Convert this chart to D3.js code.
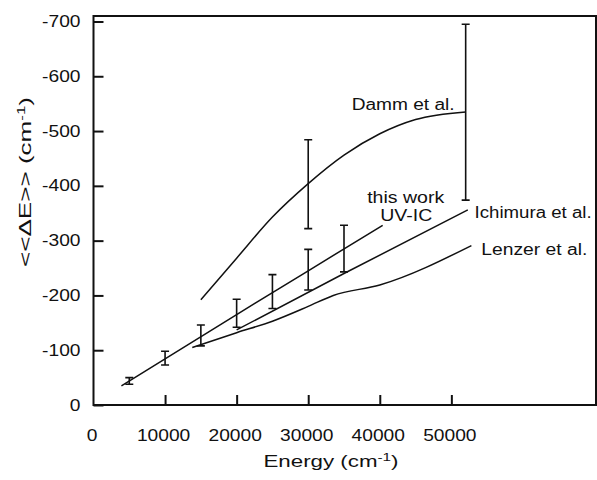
<!DOCTYPE html>
<html lang="en">
<head>
    <meta charset="UTF-8">
    <title>Energy transfer</title>
    <script src="https://d3js.org/d3.v7.min.js"></script>
    <style>
        body { margin: 0; background: #fff; }
        svg text { font-family: "Liberation Sans", Arial, Helvetica, sans-serif; fill: #111; }
        .domain { display: none; }
        .tick line { stroke: #111; stroke-width: 2; }
    </style>
</head>
<body>
    <svg width="597" height="480"></svg>

    <script>
        // this work (UV-IC) error bars
        const twX = [5000, 10000, 15000, 20000, 25000, 30000, 35000];
        const twLo = [-38, -73, -108, -142, -176, -210, -243];
        const twHi = [-50, -98, -146, -193, -238, -284, -328];
        // Damm et al. error bars
        const dammErrX = [30000, 52000];
        const dammErrLo = [-322, -374];
        const dammErrHi = [-484, -695];

        // curves
        const twLineX = [3900, 10000, 20000, 30000, 40400];
        const twLineY = [-35, -84, -165, -245, -328];
        const dammX = [15000, 20000, 25000, 30000, 35000, 40000, 45000, 52000];
        const dammY = [-192, -268, -343, -404, -456, -495, -521, -535];
        const ichiX = [20000, 35000, 52300];
        const ichiY = [-137, -240, -356];
        const lenzX = [13800, 20000, 25000, 30000, 33500, 40000, 52800];
        const lenzY = [-105, -132, -153, -180, -200, -219, -291];

        const xTicks = [0, 10000, 20000, 30000, 40000, 50000];
        const yTicks = [0, -100, -200, -300, -400, -500, -600, -700];

        const svg = d3.select("svg");
        const x = d3.scaleLinear().domain([0, 70000]).range([93.5, 594.5]);
        const y = d3.scaleLinear().domain([0, -710]).range([405, 16]);
        const sx = 1.2;

        // axes
        const gx = svg.append("g")
            .attr("transform", `translate(0,${y(0)})`)
            .call(d3.axisBottom(x).tickValues(xTicks).tickSizeInner(-10).tickSizeOuter(0).tickPadding(25)
                .tickFormat(d => String(d)));
        gx.selectAll("text").attr("font-size", 16).attr("transform", `scale(${sx},1)`).attr("x", -2 / sx);
        gx.selectAll(".tick").filter(d => d === 0).select("line").remove();

        const gy = svg.append("g")
            .attr("transform", `translate(${x(0)},0)`)
            .call(d3.axisLeft(y).tickValues(yTicks).tickSizeInner(-10).tickSizeOuter(0).tickPadding(12)
                .tickFormat(d => d === 0 ? "0" : "-" + Math.abs(d)));
        gy.selectAll("text").attr("font-size", 16).attr("transform", `scale(${sx},1)`).attr("x", -13 / sx);

        // frame
        svg.append("path")
            .attr("d", `M${x(0)},${y(-710)}V${y(0)}H596V${y(-710)}Z`)
            .attr("fill", "none").attr("stroke", "#111").attr("stroke-width", 2);

        // curves
        const line = d3.line().x(d => x(d[0])).y(d => y(d[1]));
        const curves = [
            [d3.zip(twLineX, twLineY), d3.curveLinear],
            [d3.zip(dammX, dammY), d3.curveMonotoneX],
            [d3.zip(ichiX, ichiY), d3.curveLinear],
            [d3.zip(lenzX, lenzY), d3.curveMonotoneX]
        ];
        curves.forEach(([pts, curve]) => {
            svg.append("path")
                .attr("d", line.curve(curve)(pts))
                .attr("fill", "none").attr("stroke", "#111").attr("stroke-width", 1.5);
        });

        // error bars
        const bars = d3.zip(twX, twLo, twHi).concat(d3.zip(dammErrX, dammErrLo, dammErrHi));
        const eb = svg.append("g").attr("stroke", "#111").attr("stroke-width", 1.6).attr("fill", "none");
        bars.forEach(([bx, lo, hi]) => {
            const cx = x(bx), w = 4;
            eb.append("path")
                .attr("d", `M${cx},${y(lo)}V${y(hi)}M${cx - w},${y(lo)}H${cx + w}M${cx - w},${y(hi)}H${cx + w}`);
        });

        // annotations
        const labels = [
            { text: "Damm et al.", ex: 50460, ey: -538, anchor: "end", len: 103 },
            { text: "this work", ex: 43620, ey: -369, anchor: "middle", len: 77 },
            { text: "UV-IC", ex: 43700, ey: -336, anchor: "middle", len: 52 },
            { text: "Ichimura et al.", ex: 53250, ey: -341, anchor: "start", len: 117 },
            { text: "Lenzer et al.", ex: 54190, ey: -274, anchor: "start", len: 106 }
        ];
        labels.forEach(l => {
            svg.append("text")
                .attr("x", x(l.ex)).attr("y", y(l.ey))
                .attr("text-anchor", l.anchor)
                .attr("font-size", 16)
                .attr("textLength", l.len).attr("lengthAdjust", "spacingAndGlyphs")
                .text(l.text);
        });

        // axis titles
        const xt = svg.append("text")
            .attr("x", 331).attr("y", 467)
            .attr("text-anchor", "middle").attr("font-size", 16)
            .attr("textLength", 135).attr("lengthAdjust", "spacingAndGlyphs");
        xt.append("tspan").text("Energy (cm");
        xt.append("tspan").attr("dy", -6).attr("font-size", 11).text("-1");
        xt.append("tspan").attr("dy", 6).text(")");

        const yt = svg.append("text")
            .attr("transform", "translate(31,182) rotate(-90)")
            .attr("text-anchor", "middle").attr("font-size", 17)
            .attr("textLength", 170).attr("lengthAdjust", "spacingAndGlyphs");
        yt.append("tspan").text("<<ΔE>> (cm");
        yt.append("tspan").attr("dy", -6).attr("font-size", 11).text("-1");
        yt.append("tspan").attr("dy", 6).text(")");
    </script>
</body>
</html>
